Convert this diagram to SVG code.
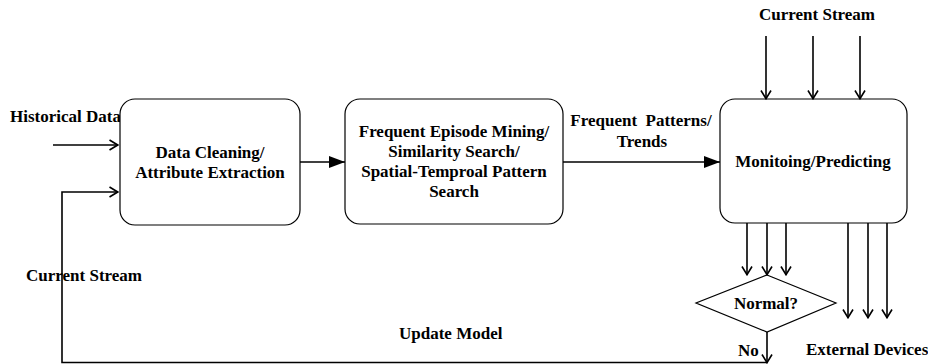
<svg xmlns="http://www.w3.org/2000/svg" width="928" height="364" viewBox="0 0 928 364">
<style>
  text { font-family: "Liberation Serif", "Times New Roman", serif; font-weight: bold; font-size: 17px; fill: #000; white-space: pre; }
  .c { text-anchor: middle; }
  .box { fill: #fff; stroke: #000; stroke-width: 1.2; }
  .ln { fill: none; stroke: #000; stroke-width: 1.6; }
  .open { marker-end: url(#openArrow); }
  .filled { marker-end: url(#filledArrow); }
</style>
<defs>
  <marker id="openArrow" viewBox="0 0 10 12" refX="9.5" refY="6" markerWidth="10" markerHeight="12" markerUnits="userSpaceOnUse" orient="auto">
    <path d="M1,1 L9.2,6 L1,11" fill="none" stroke="#000" stroke-width="1.6"/>
  </marker>
  <marker id="filledArrow" viewBox="0 0 16 12" refX="16" refY="6" markerWidth="16" markerHeight="12" markerUnits="userSpaceOnUse" orient="auto">
    <path d="M0,0 L16,6 L0,12 Z" fill="#000"/>
  </marker>
</defs>
<rect width="928" height="364" fill="#fff"/>

<g id="labels">
  <text x="10" y="122">Historical Data</text>
  <text x="26" y="281">Current Stream</text>
  <text x="399" y="339">Update Model</text>
  <text class="c" x="817" y="20">Current Stream</text>
  <text class="c" x="641" y="126">Frequent  Patterns/</text>
  <text class="c" x="642" y="147">Trends</text>
  <text x="738" y="356">No</text>
  <text x="806" y="355">External Devices</text>
</g>

<g id="node-cleaning">
  <rect class="box" x="120" y="99" width="180" height="126" rx="15"/>
  <text class="c" x="210" y="158">Data Cleaning/</text>
  <text class="c" x="210" y="178">Attribute Extraction</text>
</g>

<g id="node-mining">
  <rect class="box" x="345" y="99" width="218" height="125" rx="15"/>
  <text class="c" x="454" y="137">Frequent Episode Mining/</text>
  <text class="c" x="454" y="157">Similarity Search/</text>
  <text class="c" x="454" y="177">Spatial-Temproal Pattern</text>
  <text class="c" x="454" y="197">Search</text>
</g>

<g id="node-monitoring">
  <rect class="box" x="720" y="99" width="187" height="124" rx="15"/>
  <text class="c" x="813" y="167">Monitoing/Predicting</text>
</g>

<g id="node-normal">
  <polygon class="box" points="767,275 836,303 767,332 696,303"/>
  <text class="c" x="766" y="309">Normal?</text>
</g>

<g id="connectors">
  <line class="ln open" x1="53" y1="145" x2="118" y2="145"/>
  <line class="ln open" x1="767" y1="332" x2="767" y2="363"/>
  <polyline class="ln open" points="767,362.5 62,362.5 62,192 118,192"/>
  <line class="ln filled" x1="300" y1="162" x2="345" y2="162"/>
  <line class="ln filled" x1="563" y1="162" x2="720" y2="162"/>
  <line class="ln open" x1="766" y1="36" x2="766" y2="99"/>
  <line class="ln open" x1="813" y1="36" x2="813" y2="99"/>
  <line class="ln open" x1="860" y1="36" x2="860" y2="99"/>
  <line class="ln open" x1="747" y1="223" x2="747" y2="275"/>
  <line class="ln open" x1="767" y1="223" x2="767" y2="275"/>
  <line class="ln open" x1="786" y1="223" x2="786" y2="275"/>
  <line class="ln open" x1="848" y1="223" x2="848" y2="318"/>
  <line class="ln open" x1="868" y1="223" x2="868" y2="318"/>
  <line class="ln open" x1="887" y1="223" x2="887" y2="318"/>
</g>
</svg>
